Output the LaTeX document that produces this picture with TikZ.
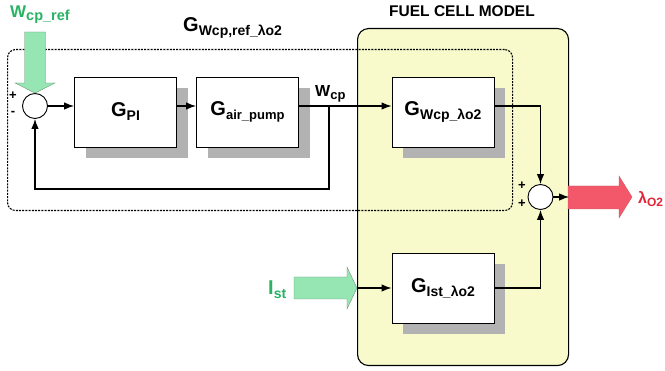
\documentclass[tikz,border=0pt]{standalone}
\usepackage{fontspec}
\setmainfont{Liberation Sans}
\usetikzlibrary{arrows.meta,shadows}
\definecolor{fcyellow}{RGB}{248,250,204}
\definecolor{shgray}{RGB}{178,178,178}
\definecolor{arrgreen}{RGB}{150,230,180}
\definecolor{arrgreenline}{RGB}{110,150,120}
\definecolor{txtgreen}{RGB}{40,178,100}
\definecolor{arrred}{RGB}{242,88,106}
\definecolor{arrredline}{RGB}{200,90,100}
\definecolor{txtred}{RGB}{228,36,56}
\newcommand\fs[2]{{\fontsize{#1}{#1}\selectfont #2}}
\newcommand\lab[5]{\fs{#1}{#2}\raisebox{-#5}{\fs{#3}{#4}}}
\begin{document}
\begin{tikzpicture}[x=1pt,y=-1pt,
 blk/.style={draw=black, line width=0.9pt, fill=white, minimum width=102pt, minimum height=70pt, inner sep=0pt, font=\bfseries,
   drop shadow={shadow xshift=11pt, shadow yshift=-11pt, fill=shgray, opacity=1}},
 sumj/.style={circle, draw, line width=0.9pt, fill=white, minimum size=25pt, inner sep=0pt},
 conn/.style={line width=1.1pt, -{Latex[length=10pt,width=7.5pt]}},
 sgn/.style={font=\bfseries\fontsize{13}{13}\selectfont, inner sep=0pt},
 freelab/.style={inner sep=0pt, font=\bfseries}
]
\useasboundingbox (0,0) rectangle (665,371);
% fuel cell model frame
\node[draw, line width=1.1pt, fill=fcyellow, rounded corners=11pt, minimum width=211pt, minimum height=337pt, anchor=north west, inner sep=0pt] (fc) at (357,28) {};
\node[freelab, anchor=base, font=\bfseries\fontsize{15.5}{15.5}\selectfont] (fct) at (462,17) {FUEL CELL MODEL};
% dotted closed-loop frame
\node[draw, line width=1.1pt, dash pattern=on 2pt off 1.2pt, rounded corners=8pt, minimum width=505pt, minimum height=161pt, anchor=north west, inner sep=0pt] (dot) at (7,49) {};
\node[freelab, anchor=base west] (gtitle) at (183,32) {\lab{20}{G}{14}{Wcp,ref\_λo2}{4pt}};
% blocks
\node[blk] (gpi) at (125.5,112) {\lab{20}{G}{14}{PI}{4pt}};
\node[blk] (gap) at (247.5,112) {\lab{20}{G}{13}{air\_pump}{4pt}};
\node[blk] (gwl) at (443,112) {\lab{20}{G}{14}{Wcp\_λo2}{4pt}};
\node[blk] (gil) at (443,288) {\lab{20}{G}{14}{Ist\_λo2}{4pt}};
% summing junctions
\node[sumj] (s1) at (35,106) {};
\node[sumj] (s2) at (540.5,197) {};
\node[sgn] (p1) at (13,96) {+};
\node[sgn] (m1) at (13,113) {-};
\node[sgn] (p2) at (522,186) {+};
\node[sgn] (p3) at (522,204) {+};
% big input / output arrows
\coordinate (wtip) at (s1.north);
\filldraw[fill=arrgreen, draw=arrgreenline, line width=0.4pt]
  (24.5,32) -- (45.5,32) -- (45.5,83) -- (55,83) -- (wtip) -- (15,83) -- (24.5,83) -- cycle;
\coordinate (itip) at (fc.west |- gil.west);
\filldraw[fill=arrgreen, draw=arrgreenline, line width=0.4pt]
  (294,277) -- (347,277) -- (347,267) -- (itip) -- (347,309) -- (347,299) -- (294,299) -- cycle;
\coordinate (obase) at (fc.east |- s2);
\filldraw[fill=arrred, draw=arrredline, line width=0.4pt]
  (568,186) -- (619,186) -- (619,176) -- (632,197) -- (619,218) -- (619,209) -- (568,209) -- cycle;
% labels
\node[freelab, anchor=base west, text=txtgreen] (wref) at (10,18) {\lab{17}{W}{14.5}{cp\_ref}{3pt}};
\node[freelab, anchor=base west] (wcp) at (315,97) {\lab{16}{W}{13}{cp}{3pt}};
\node[freelab, anchor=base west, text=txtgreen] (ist) at (268,295) {\lab{20}{I}{14}{st}{4pt}};
\node[freelab, anchor=base west, text=txtred] (lo2) at (638,204) {\lab{16}{λ}{12}{O2}{3pt}};
% connectors
\draw[conn] (s1.east) -- (gpi.west |- s1.east);
\draw[conn] (gpi.east |- s1.east) -- (gap.west |- s1.east);
\draw[conn] (gap.east |- s1.east) -- (gwl.west |- s1.east);
\coordinate (br) at (329,106);
\coordinate (fb) at (329,189);
\draw[conn] (br) -- (fb) -| (s1.south);
\draw[conn] (gwl.east |- s1.east) -| (s2.north);
\draw[conn] (gil.east) -| (s2.south);
\draw[conn] (s2.east) -- (obase);
\draw[conn] (itip) -- (gil.west);
\end{tikzpicture}
\end{document}
